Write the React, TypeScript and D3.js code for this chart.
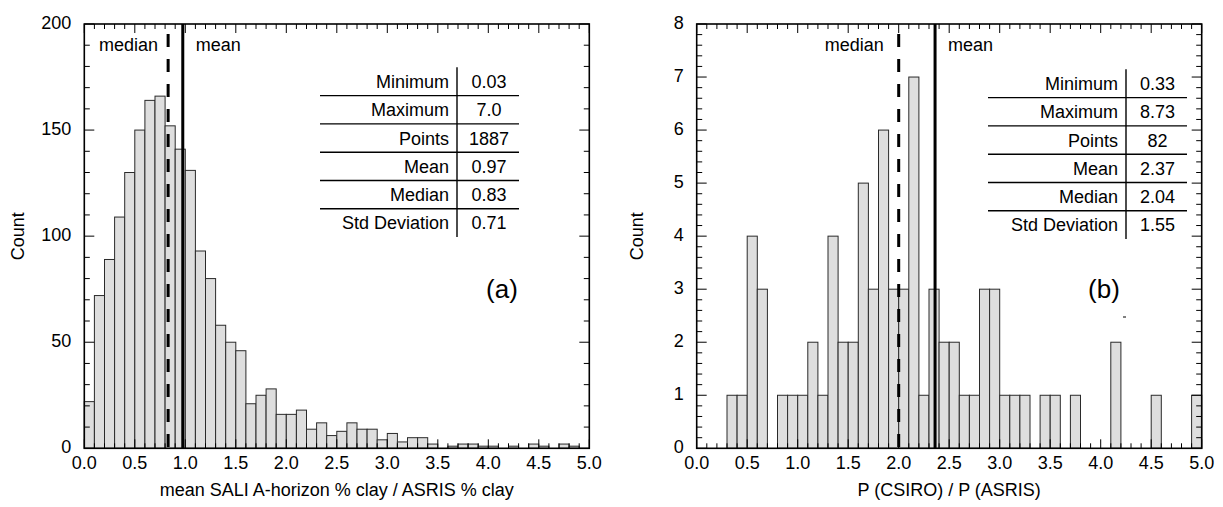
import React from "react";
import * as d3 from "d3";

const binStart = 0;
const binWidth = 0.1;

const countsA = [
  22, 72, 89, 109, 130, 150, 164, 166, 152, 141,
  131, 93, 80, 58, 50, 46, 21, 25, 28, 16,
  16, 18, 9, 12, 6, 8, 12, 9, 9, 4,
  7, 3, 5, 5, 2, 0, 1, 2, 2, 1,
  1, 0, 1, 0, 2, 1, 0, 2, 1, 0,
];

const countsB = [
  0, 0, 0, 1, 1, 4, 3, 0, 1, 1,
  1, 2, 1, 4, 2, 2, 5, 3, 6, 3,
  3, 7, 1, 3, 2, 2, 1, 1, 3, 3,
  1, 1, 1, 0, 1, 1, 0, 1, 0, 0,
  0, 2, 0, 0, 0, 1, 0, 0, 0, 1,
];

const statLabels = ["Minimum", "Maximum", "Points", "Mean", "Median", "Std Deviation"];
const statsA = ["0.03", "7.0", "1887", "0.97", "0.83", "0.71"];
const statsB = ["0.33", "8.73", "82", "2.37", "2.04", "1.55"];

const medianA = 0.83;
const meanA = 0.975;
const medianB = 2.0;
const meanB = 2.36;

const xTickLabels = ["0.0", "0.5", "1.0", "1.5", "2.0", "2.5", "3.0", "3.5", "4.0", "4.5", "5.0"];
const yTicksA = [0, 50, 100, 150, 200];
const yTicksB = [0, 1, 2, 3, 4, 5, 6, 7, 8];

const FONT = "'Liberation Sans', Arial, Helvetica, sans-serif";

type PanelProps = {
  x0: number; x1: number; y0: number; y1: number;
  counts: number[]; yMax: number; yTicks: number[]; yMinorStep: number;
  median: number; mean: number; stats: string[];
  xTitle: string; tag: string;
  tableLeft: number; tableDiv: number; tableRight: number; tableTop: number;
  tagX: number; tagY: number; medianGap: number; yTitleX: number;
  stray?: boolean;
};

function Panel(p: PanelProps) {
  const x = d3.scaleLinear().domain([0, 5]).range([p.x0, p.x1]);
  const y = d3.scaleLinear().domain([0, p.yMax]).range([p.y1, p.y0]);
  const minorX = d3.range(0, 51).map((i) => i / 10);
  const minorY = d3.range(0, Math.round(p.yMax / p.yMinorStep) + 1).map((i) => i * p.yMinorStep);
  const rowH = 28.3;
  const ticks: JSX.Element[] = [];
  minorX.forEach((v, i) => {
    const major = i % 5 === 0;
    const L = major ? 9 : 5;
    const xx = x(v);
    ticks.push(<line key={"bx" + i} x1={xx} x2={xx} y1={p.y1} y2={p.y1 - L} />);
    ticks.push(<line key={"tx" + i} x1={xx} x2={xx} y1={p.y0} y2={p.y0 + L} />);
  });
  minorY.forEach((v, i) => {
    const major = p.yTicks.some((t) => Math.abs(t - v) < 1e-9);
    const L = major ? 10 : 5.5;
    const yy = y(v);
    ticks.push(<line key={"ly" + i} x1={p.x0} x2={p.x0 + L} y1={yy} y2={yy} />);
    ticks.push(<line key={"ry" + i} x1={p.x1} x2={p.x1 - L} y1={yy} y2={yy} />);
  });
  return (
    <g fontFamily={FONT}>
      <g>
        {p.counts.map((c, i) =>
          c > 0 ? (
            <rect
              key={i}
              x={x(binStart + i * binWidth)}
              y={y(c)}
              width={x(binStart + (i + 1) * binWidth) - x(binStart + i * binWidth)}
              height={y(0) - y(c)}
              fill="#dedede"
              stroke="#2a2a2a"
              strokeWidth={1}
            />
          ) : null
        )}
      </g>
      <line x1={x(p.median)} x2={x(p.median)} y1={p.y0 + 2} y2={p.y1} stroke="#000" strokeWidth={3} strokeDasharray="13,12" strokeDashoffset={-8} />
      <line x1={x(p.mean)} x2={x(p.mean)} y1={p.y0} y2={p.y1} stroke="#000" strokeWidth={3} />
      <text x={x(p.median) - p.medianGap} y={50.5} fontSize={18} textAnchor="end">median</text>
      <text x={x(p.mean) + 13} y={50.5} fontSize={18}>mean</text>
      <g stroke="#000" strokeWidth={1}>{ticks}</g>
      <rect x={p.x0} y={p.y0} width={p.x1 - p.x0} height={p.y1 - p.y0} fill="none" stroke="#000" strokeWidth={1.6} />
      {xTickLabels.map((t, i) => (
        <text key={t} x={x(i * 0.5)} y={p.y1 + 21} fontSize={18} textAnchor="middle">{t}</text>
      ))}
      {p.yTicks.map((t) => (
        <text key={t} x={p.x0 - 13} y={y(t) + 5} fontSize={18} textAnchor="end">{t}</text>
      ))}
      <text x={(p.x0 + p.x1) / 2} y={p.y1 + 48} fontSize={18} textAnchor="middle">{p.xTitle}</text>
      <text transform={`translate(${p.yTitleX},${(p.y0 + p.y1) / 2}) rotate(-90)`} fontSize={18} textAnchor="middle">Count</text>
      <g>
        <line x1={p.tableDiv} x2={p.tableDiv} y1={p.tableTop} y2={p.tableTop + rowH * 6} stroke="#000" strokeWidth={1.4} />
        {statLabels.map((lab, i) => (
          <g key={lab}>
            <text x={p.tableDiv - 8} y={p.tableTop + rowH * i + rowH / 2 + 6.5} fontSize={18} textAnchor="end">{lab}</text>
            <text x={(p.tableDiv + p.tableRight) / 2 + 1} y={p.tableTop + rowH * i + rowH / 2 + 6.5} fontSize={18} textAnchor="middle">{p.stats[i]}</text>
            {i < 5 ? (
              <line x1={p.tableLeft} x2={p.tableRight} y1={p.tableTop + rowH * (i + 1)} y2={p.tableTop + rowH * (i + 1)} stroke="#000" strokeWidth={1.4} />
            ) : null}
          </g>
        ))}
      </g>
      <text x={p.tagX} y={p.tagY} fontSize={26} textAnchor="middle">{p.tag}</text>
      {p.stray ? <line x1={p.tagX + 19} x2={p.tagX + 22} y1={p.tagY + 19} y2={p.tagY + 19} stroke="#000" strokeWidth={1} /> : null}
    </g>
  );
}

export default function App() {
  return (
    <svg width={1223} height={507} style={{ position: "absolute", left: 0, top: 0, background: "#fff" }}>
      <rect x={0} y={0} width={1223} height={507} fill="#fff" />
      <Panel
        x0={84.3} x1={589.3} y0={24} y1={448.3}
        counts={countsA} yMax={200} yTicks={yTicksA} yMinorStep={10}
        median={medianA} mean={meanA} stats={statsA}
        xTitle="mean SALI A-horizon % clay / ASRIS % clay" tag="(a)"
        tableLeft={320} tableDiv={457} tableRight={519} tableTop={67.3}
        tagX={502} tagY={298} medianGap={10} yTitleX={24}
      />
      <Panel
        x0={696.7} x1={1201.7} y0={24} y1={448.3}
        counts={countsB} yMax={8} yTicks={yTicksB} yMinorStep={0.2}
        median={medianB} mean={meanB} stats={statsB}
        xTitle="P (CSIRO) / P (ASRIS)" tag="(b)"
        tableLeft={988} tableDiv={1126} tableRight={1187} tableTop={69.3}
        tagX={1104} tagY={298} medianGap={15} yTitleX={643} stray
      />
    </svg>
  );
}
